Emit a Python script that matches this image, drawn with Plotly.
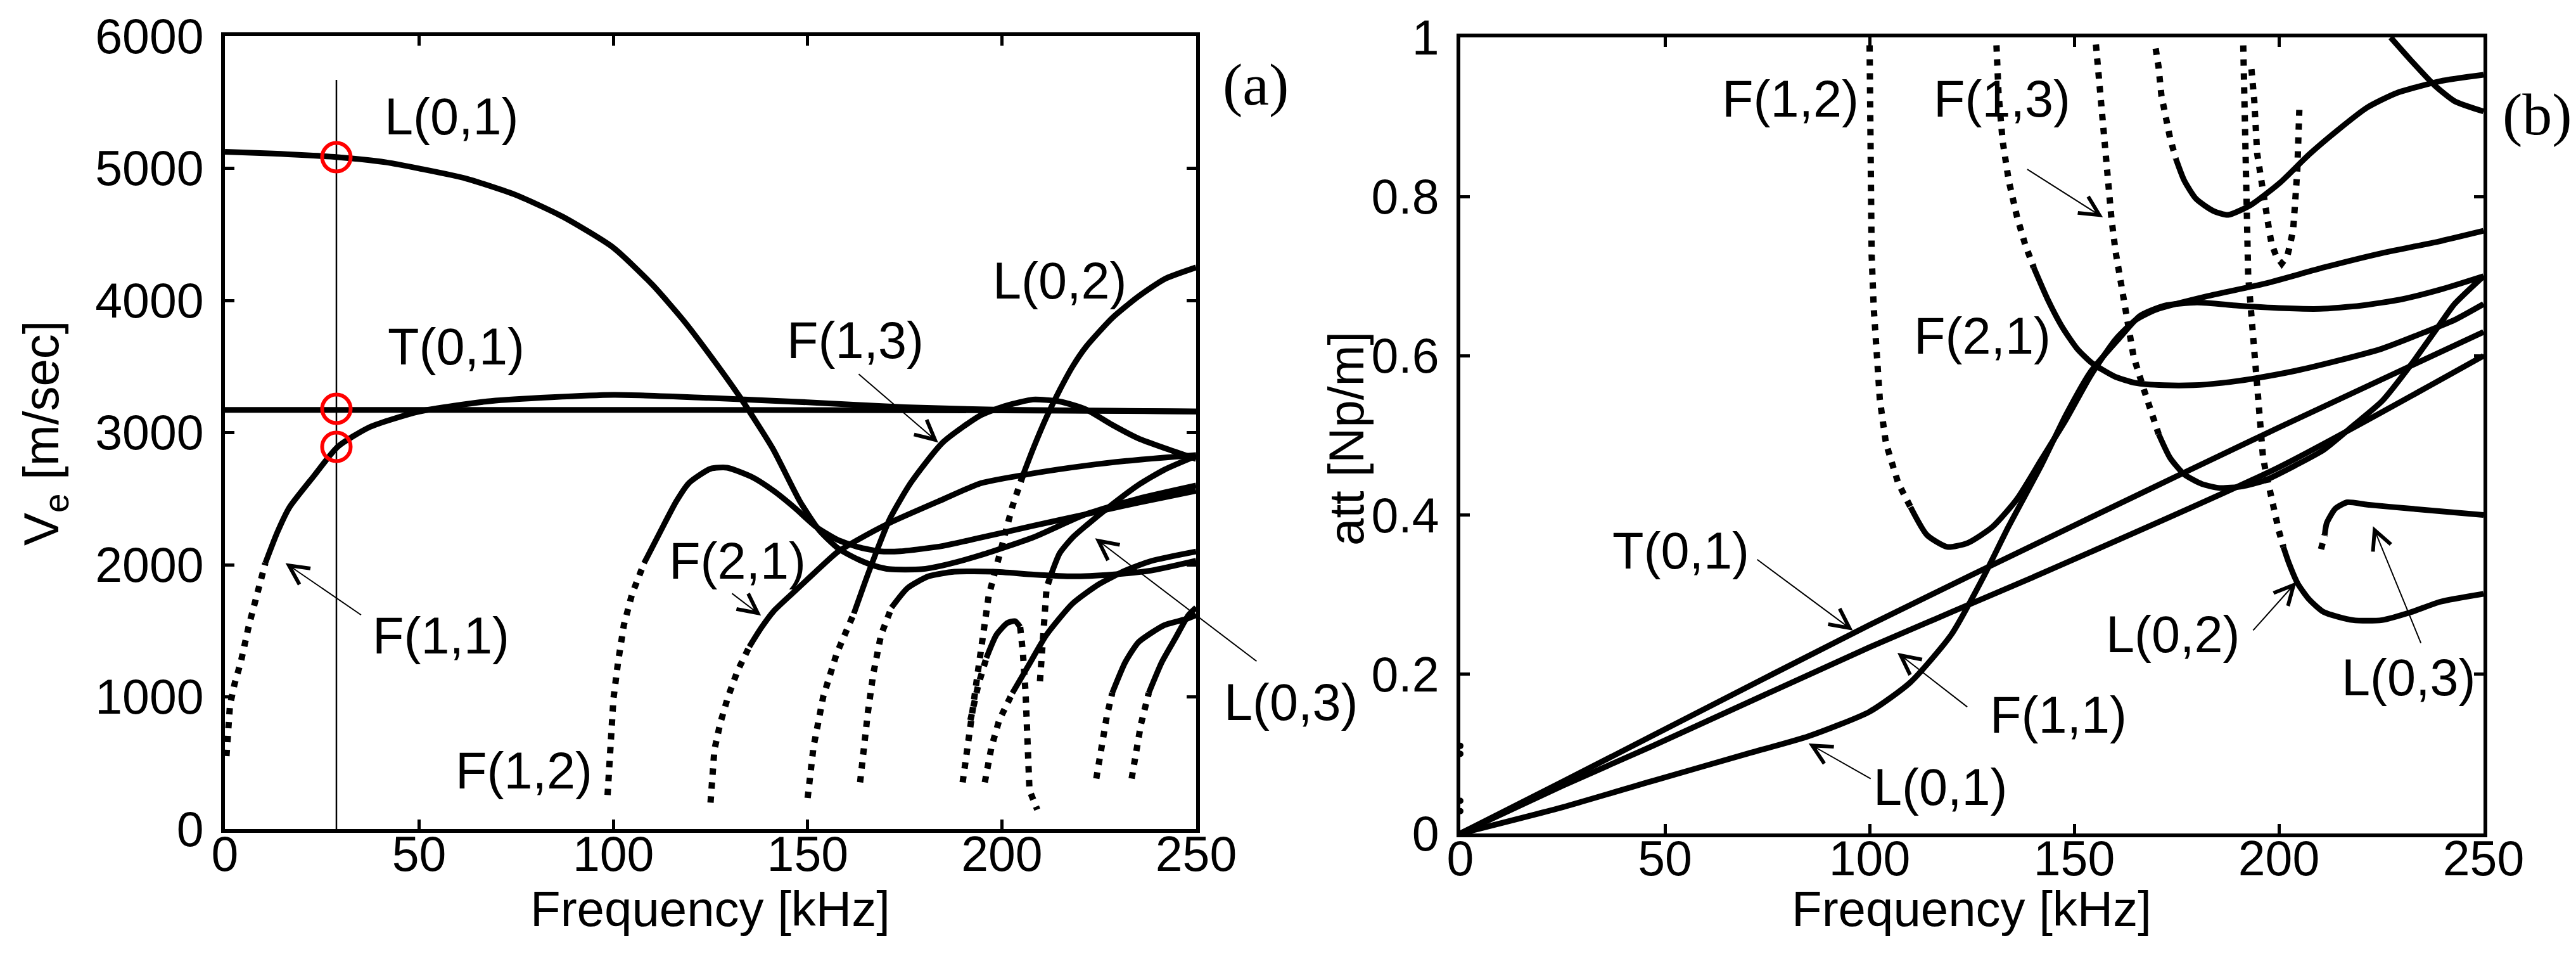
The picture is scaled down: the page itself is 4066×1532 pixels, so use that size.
import plotly.graph_objects as go

# ---------------- (a) energy velocity, f in kHz, V in m/s ----------------
A_T01_F = [0, 50, 100, 150, 200, 250]
A_T01_V = [3172, 3172, 3172, 3170, 3168, 3160]

A_F11_DOT_F = [0.4, 0.8, 1.3, 2.5, 4.1, 6.2, 8.3, 10.4]
A_F11_DOT_V = [552, 772, 936, 1100, 1264, 1544, 1778, 2012]
A_F11_F = [10.4, 13.5, 16.6, 22.8, 29, 37.3, 50, 68.5, 100, 124.5, 150, 175, 200, 250]
A_F11_V = [2012, 2246, 2434, 2668, 2892, 3042, 3159, 3239, 3285, 3262, 3229, 3192, 3173, 3159]

A_L01_F = [0, 12.4, 29, 41.5, 50, 62, 75, 87, 100, 110, 118, 126, 133, 141, 148, 153, 158,
           163, 167.4, 171.2, 179.3, 184.8, 194.6, 208, 221.6, 235.1, 250]
A_L01_V = [5125, 5111, 5084, 5045, 4998, 4923, 4797, 4633, 4399, 4120, 3850, 3540, 3250, 2880,
           2480, 2260, 2120, 2040, 1990, 1966, 1966, 1995, 2073, 2206, 2382, 2500, 2600]

A_F12_DOT_F = [98.5, 99.2, 100, 101.2, 102.7, 104.8, 107.9]
A_F12_DOT_V = [257, 608, 983, 1264, 1544, 1778, 2012]
A_F12_F = [107.9, 112, 116.2, 119.5, 125, 129.3, 135.8, 141.3, 146.7, 152.2, 157.6, 163, 168.5,
           173.9, 184.8, 194.6, 208, 221.6, 235.1, 250]
A_F12_V = [2012, 2246, 2480, 2620, 2726, 2734, 2662, 2558, 2430, 2286, 2190, 2134, 2102, 2102,
           2142, 2206, 2294, 2382, 2470, 2559]

A_F21_DOT_F = [125, 125.3, 126, 127.5, 129.5, 132, 135]
A_F21_DOT_V = [200, 400, 600, 800, 1000, 1200, 1380]
A_F21_F = [135, 138, 141.3, 146.7, 152.2, 157.6, 163, 171.2, 184.8, 194.6, 208, 221.6, 235.1, 250]
A_F21_V = [1380, 1520, 1650, 1800, 1951, 2094, 2190, 2318, 2494, 2617, 2691, 2750, 2794, 2830]

A_F13_DOT_F = [150, 151.5, 154, 157.5, 161.9]
A_F13_DOT_V = [235, 620, 1000, 1330, 1631]
A_F13_F = [161.9, 165.8, 171.2, 176.6, 184.8, 194.6, 201.4, 208, 214.9, 221.6, 228.4, 235.1,
           241.9, 250]
A_F13_V = [1631, 1951, 2350, 2622, 2926, 3132, 3206, 3250, 3235, 3176, 3059, 2956, 2882, 2800]

A_L02_DOT_F = [189.9, 191.6, 193.9, 196.6, 200, 202.7, 205.4]
A_L02_DOT_V = [353, 735, 1206, 1765, 2147, 2441, 2676]
A_L02_F = [205.4, 208.1, 211.5, 214.9, 218.2, 221.6, 228.4, 235.1, 241.9, 250]
A_L02_V = [2676, 2882, 3118, 3323, 3500, 3647, 3867, 4029, 4162, 4250]

A_M1_DOT_F = [163.5, 164.5, 165.5, 166.9, 168.9, 171.6]
A_M1_DOT_V = [353, 676, 882, 1176, 1470, 1676]
A_M1_F = [171.6, 175.7, 181.1, 187.8, 198, 208.1, 218.2, 228.4, 238.5, 250]
A_M1_V = [1676, 1823, 1912, 1947, 1947, 1926, 1912, 1926, 1956, 2030]

A_M2_DOT_F = [195.6, 197.3, 199.3, 202.7]
A_M2_DOT_V = [353, 618, 823, 1029]
A_M2_F = [202.7, 206.8, 211.5, 218.2, 225, 231.8, 238.5, 250]
A_M2_V = [1029, 1235, 1470, 1706, 1853, 1956, 2029, 2100]

A_M3_DOT_F = [191.9, 193.9, 196]
A_M3_DOT_V = [823, 1088, 1294]
A_M3_F = [196, 198.6, 201.4, 203.4, 204.7]
A_M3_V = [1294, 1470, 1559, 1573, 1529]
A_M3_TAIL_F = [204.7, 205.4, 206.1, 206.6, 207.1, 209.1]
A_M3_TAIL_V = [1529, 1338, 1029, 470, 294, 147]

A_L03_DOT_F = [209.8, 210.5, 210.8, 211.5, 212.5]
A_L03_DOT_V = [1118, 1470, 1647, 1823, 1912]
A_L03_F = [212.5, 214.9, 218.2, 221.6, 228.4, 235.1, 241.9, 250]
A_L03_V = [1912, 2088, 2206, 2294, 2456, 2603, 2720, 2823]

A_M4_DOT_F = [224.3, 225, 225.7, 227, 228.4]
A_M4_DOT_V = [382, 500, 647, 853, 1029]
A_M4_F = [228.4, 231.8, 235.1, 238.5, 241.9, 247.3, 250]
A_M4_V = [1029, 1265, 1412, 1485, 1544, 1588, 1618]

A_M5_DOT_F = [233.4, 234.4, 235.8, 237.8]
A_M5_DOT_V = [382, 588, 794, 1029]
A_M5_F = [237.8, 241.2, 244.6, 248, 250]
A_M5_V = [1029, 1265, 1441, 1618, 1676]

MARK_F = 28.7
MARK_TOP = 5669
CIRCLE_V = [5084, 3180, 2892]

# ---------------- (b) attenuation, att in Np/m ----------------
B_T01_F = [0, 25, 47, 100, 150, 200, 250]
B_T01_A = [0, 0.065, 0.123, 0.262, 0.387, 0.51, 0.63]

B_F11_F = [0, 25, 47, 100, 140, 200, 250]
B_F11_A = [0, 0.06, 0.11, 0.234, 0.322, 0.46, 0.60]

B_L01_F = [0, 25, 47, 70, 85, 100, 110, 120, 128, 134, 142, 148, 154, 161, 166, 172, 180, 190,
           200, 210, 220, 230, 240, 250]
B_L01_A = [0, 0.033, 0.066, 0.1, 0.122, 0.153, 0.19, 0.25, 0.324, 0.386, 0.463, 0.526, 0.58,
           0.622, 0.65, 0.663, 0.667, 0.663, 0.66, 0.659, 0.663, 0.671, 0.684, 0.70]

B_F12_DOT_F = [100, 100.2, 100.5, 101, 101.5, 102.5, 104, 107, 110]
B_F12_DOT_A = [0.99, 0.78, 0.727, 0.661, 0.615, 0.545, 0.49, 0.44, 0.41]
B_F12_F = [110, 114, 119, 124, 130, 136, 142, 148, 154, 160, 165, 170, 182.6, 196.8, 211, 225.2,
           239.4, 250]
B_F12_A = [0.41, 0.375, 0.36, 0.365, 0.385, 0.42, 0.47, 0.52, 0.575, 0.62, 0.645, 0.658, 0.675,
           0.691, 0.711, 0.729, 0.744, 0.757]

B_F21_DOT_F = [131, 131.5, 132.5, 134, 136, 138, 140.1]
B_F21_DOT_A = [0.99, 0.93, 0.87, 0.82, 0.775, 0.74, 0.711]
B_F21_F = [140.1, 143.6, 147.2, 150.7, 154.3, 159.9, 164.9, 172, 179.1, 186.2, 193.3, 203.9,
           214.5, 225.2, 235.8, 242.9, 250]
B_F21_A = [0.711, 0.67, 0.635, 0.609, 0.591, 0.574, 0.566, 0.563, 0.563, 0.566, 0.571, 0.581,
           0.594, 0.609, 0.63, 0.645, 0.665]

B_F13_DOT_F = [155.3, 156, 157.1, 158.2, 159.1, 160.1, 161.3, 162.6, 164.5, 167, 170.6]
B_F13_DOT_A = [0.991, 0.95, 0.879, 0.82, 0.772, 0.731, 0.696, 0.652, 0.599, 0.558, 0.502]
B_F13_F = [170.6, 173.4, 176.9, 181.2, 185.5, 191.1, 196.8, 203.9, 211, 218.1, 225.2, 232.3,
           239.4, 242.9, 250]
B_F13_A = [0.502, 0.472, 0.451, 0.439, 0.434, 0.436, 0.444, 0.462, 0.482, 0.512, 0.543, 0.589,
           0.64, 0.665, 0.70]

B_M1_F = [227.3, 232.3, 238, 242.9, 250]
B_M1_A = [1.0, 0.971, 0.94, 0.92, 0.907]

B_M2_DOT_F = [169.9, 170.6, 171.3, 172.3, 173.4, 174.8]
B_M2_DOT_A = [0.986, 0.963, 0.927, 0.9, 0.874, 0.848]
B_M2_F = [174.8, 176.9, 179.8, 184, 187.6, 193.3, 200.4, 207.4, 214.5, 221.6, 228.7, 239.4, 250]
B_M2_A = [0.848, 0.82, 0.797, 0.782, 0.777, 0.79, 0.818, 0.853, 0.884, 0.912, 0.93, 0.945, 0.953]

B_M3_F = [193.3, 194, 194.7, 195.4, 196.1, 196.8, 197.5, 198.2, 199.3, 200.7, 202.1, 202.8,
          203.5, 203.9, 204.5, 205]
B_M3_A = [0.96, 0.92, 0.854, 0.828, 0.808, 0.787, 0.762, 0.741, 0.726, 0.716, 0.726, 0.741,
          0.759, 0.787, 0.833, 0.909]

B_L02_DOT_F = [191.3, 191.8, 192.4, 192.5, 193.3, 194, 194.8, 195.5, 196.1, 196.8, 197.9, 199,
               200, 201.1]
B_L02_DOT_A = [0.99, 0.853, 0.766, 0.701, 0.65, 0.607, 0.54, 0.515, 0.474, 0.454, 0.426, 0.4,
               0.38, 0.36]
B_L02_F = [201.1, 202.5, 204.6, 207.4, 211, 218.1, 225.2, 232.3, 239.4, 250]
B_L02_A = [0.36, 0.339, 0.314, 0.294, 0.278, 0.268, 0.268, 0.278, 0.291, 0.301]

B_L03_DOT_F = [210.3, 210.8, 211.2]
B_L03_DOT_A = [0.357, 0.37, 0.375]
B_L03_F = [211.2, 211.7, 213.8, 216.7, 221.6, 232.3, 250]
B_L03_A = [0.375, 0.39, 0.408, 0.416, 0.413, 0.408, 0.40]

B_ZERO_F = [0, 0, 0, 0]
B_ZERO_A = [0.11, 0.10, 0.041, 0.028]

# mode labels: (text, f, value) and arrows: (tail f, tail value, tip f, tip value)
A_LABELS = [("L(0,1)", 58.3, 5390), ("T(0,1)", 59.5, 3650), ("F(1,3)", 162.2, 3700),
            ("L(0,2)", 214.9, 4150), ("F(2,1)", 132, 2030), ("F(1,1)", 55.6, 1465),
            ("F(1,2)", 77, 440)]
A_ARROWS = [(35.3, 1615, 15.6, 2012), (130.3, 1788, 138, 1615),
            (162.9, 3449, 183.6, 2925), (265.8, 1264, 224, 2200)]
B_LABELS = [("F(1,2)", 80.6, 0.923), ("F(1,3)", 132.4, 0.923), ("F(2,1)", 127.5, 0.625),
            ("T(0,1)", 53.8, 0.355), ("F(1,1)", 146.2, 0.149), ("L(0,1)", 117.4, 0.058),
            ("L(0,2)", 174.2, 0.25), ("L(0,3)", 231.7, 0.196)]
B_ARROWS = [(72.3, 0.345, 95.9, 0.255), (124.1, 0.158, 106.8, 0.227),
            (100.5, 0.068, 85.1, 0.113), (193.5, 0.254, 204.3, 0.316),
            (234.8, 0.238, 223, 0.386), (138.3, 0.835, 157, 0.774)]

SANS = "Liberation Sans, Arial, sans-serif"
SERIF = "Liberation Serif, Times New Roman, serif"
W, H = 4066, 1532

fig = go.Figure()


def curve(x, y, xa, ya, dotted=False):
    fig.add_trace(go.Scatter(
        x=x, y=y, mode="lines", xaxis=xa, yaxis=ya, showlegend=False, hoverinfo="skip",
        line=dict(color="black", width=10 if dotted else 9,
                  dash="10px,12px" if dotted else "solid",
                  shape="linear" if dotted else "spline", smoothing=0.6),
    ))


left_solid = [(A_T01_F, A_T01_V), (A_F11_F, A_F11_V), (A_L01_F, A_L01_V), (A_F12_F, A_F12_V),
              (A_F21_F, A_F21_V), (A_F13_F, A_F13_V), (A_L02_F, A_L02_V), (A_M1_F, A_M1_V),
              (A_M2_F, A_M2_V), (A_M3_F, A_M3_V), (A_L03_F, A_L03_V), (A_M4_F, A_M4_V),
              (A_M5_F, A_M5_V)]
left_dotted = [(A_F11_DOT_F, A_F11_DOT_V), (A_F12_DOT_F, A_F12_DOT_V), (A_F21_DOT_F, A_F21_DOT_V),
               (A_F13_DOT_F, A_F13_DOT_V), (A_L02_DOT_F, A_L02_DOT_V), (A_M1_DOT_F, A_M1_DOT_V),
               (A_M2_DOT_F, A_M2_DOT_V), (A_M3_DOT_F, A_M3_DOT_V), (A_M3_TAIL_F, A_M3_TAIL_V),
               (A_L03_DOT_F, A_L03_DOT_V), (A_M4_DOT_F, A_M4_DOT_V), (A_M5_DOT_F, A_M5_DOT_V)]
for fx, vy in left_solid:
    curve(fx, vy, "x", "y")
for fx, vy in left_dotted:
    curve(fx, vy, "x", "y", dotted=True)

right_solid = [(B_T01_F, B_T01_A), (B_F11_F, B_F11_A), (B_L01_F, B_L01_A), (B_F12_F, B_F12_A),
               (B_F21_F, B_F21_A), (B_F13_F, B_F13_A), (B_M1_F, B_M1_A), (B_M2_F, B_M2_A),
               (B_L02_F, B_L02_A), (B_L03_F, B_L03_A)]
right_dotted = [(B_F12_DOT_F, B_F12_DOT_A), (B_F21_DOT_F, B_F21_DOT_A), (B_F13_DOT_F, B_F13_DOT_A),
                (B_M2_DOT_F, B_M2_DOT_A), (B_M3_F, B_M3_A), (B_L02_DOT_F, B_L02_DOT_A),
                (B_L03_DOT_F, B_L03_DOT_A)]
for fx, ay in right_solid:
    curve(fx, ay, "x2", "y2")
for fx, ay in right_dotted:
    curve(fx, ay, "x2", "y2", dotted=True)

fig.add_trace(go.Scatter(x=B_ZERO_F, y=B_ZERO_A, mode="markers", xaxis="x2", yaxis="y2",
                         marker=dict(color="black", size=10), cliponaxis=False,
                         showlegend=False, hoverinfo="skip"))

# marker line at the chosen frequency and the red circles
fig.add_trace(go.Scatter(x=[MARK_F, MARK_F], y=[0, MARK_TOP], mode="lines", xaxis="x", yaxis="y",
                         line=dict(color="black", width=2.5), showlegend=False, hoverinfo="skip"))
fig.add_trace(go.Scatter(x=[MARK_F] * len(CIRCLE_V), y=CIRCLE_V, mode="markers",
                         xaxis="x", yaxis="y", showlegend=False, hoverinfo="skip",
                         marker=dict(symbol="circle-open", size=45, color="#ff0000",
                                     line=dict(width=6, color="#ff0000"))))


def paper_text(txt, px, py, size, family=SANS, angle=0):
    return dict(text=txt, x=px / W, y=1 - py / H, xref="paper", yref="paper",
                xanchor="center", yanchor="middle", showarrow=False, textangle=angle,
                font=dict(family=family, size=size, color="black"))


annotations = []
for txt, fx, vy in A_LABELS:
    annotations.append(dict(text=txt, x=fx, y=vy, xref="x", yref="y", showarrow=False,
                            xanchor="center", yanchor="middle",
                            font=dict(family=SANS, size=81, color="black")))
for txt, fx, ay in B_LABELS:
    annotations.append(dict(text=txt, x=fx, y=ay, xref="x2", yref="y2", showarrow=False,
                            xanchor="center", yanchor="middle",
                            font=dict(family=SANS, size=81, color="black")))
for (tf, tv, hf, hv) in A_ARROWS:
    annotations.append(dict(text="", x=hf, y=hv, ax=tf, ay=tv, xref="x", yref="y",
                            axref="x", ayref="y", showarrow=True, arrowhead=5, arrowsize=3,
                            arrowwidth=2, arrowcolor="black", standoff=0, startstandoff=0))
for (tf, tv, hf, hv) in B_ARROWS:
    annotations.append(dict(text="", x=hf, y=hv, ax=tf, ay=tv, xref="x2", yref="y2",
                            axref="x2", ayref="y2", showarrow=True, arrowhead=5, arrowsize=3,
                            arrowwidth=2, arrowcolor="black", standoff=0, startstandoff=0))

# label that sits outside panel (a), panel tags and axis titles
annotations += [
    paper_text("L(0,3)", 2030, 1100, 81),
    paper_text("(a)", 1974, 125, 94, family=SERIF),
    paper_text("(b)", 3997, 172, 94, family=SERIF),
    paper_text("Frequency [kHz]", 1113, 1426, 78),
    paper_text("Frequency [kHz]", 3104, 1426, 78),
    paper_text("V<sub>e</sub> [m/sec]", 62, 676, 78, angle=-90),
    paper_text("att [Np/m]", 2117, 684, 78, angle=-90),
]

axis_style = dict(showline=True, linecolor="black", linewidth=6, mirror="allticks",
                  ticks="inside", ticklen=15, tickwidth=5, tickcolor="black",
                  showgrid=False, zeroline=False, automargin=False,
                  tickfont=dict(family=SANS, size=77, color="black"))

fig.update_layout(
    width=W, height=H,
    margin=dict(l=0, r=0, t=0, b=0, pad=0, autoexpand=False),
    paper_bgcolor="white", plot_bgcolor="white",
    showlegend=False,
    annotations=annotations,
    xaxis=dict(domain=[347 / W, 1880 / W], range=[0, 250], anchor="y",
               tickvals=[0, 50, 100, 150, 200, 250], ticklabelstandoff=-32, **axis_style),
    yaxis=dict(domain=[1 - 1300 / H, 1 - 49 / H], range=[0, 6000], anchor="x",
               tickvals=[0, 1000, 2000, 3000, 4000, 5000, 6000], ticklabelstandoff=12,
               **axis_style),
    xaxis2=dict(domain=[2297 / W, 3912 / W], range=[0, 250], anchor="y2",
                tickvals=[0, 50, 100, 150, 200, 250], ticklabelstandoff=-32, **axis_style),
    yaxis2=dict(domain=[1 - 1307 / H, 1 - 51 / H], range=[0, 1], anchor="x2",
                tickvals=[0, 0.2, 0.4, 0.6, 0.8, 1],
                ticktext=["0", "0.2", "0.4", "0.6", "0.8", "1"], ticklabelstandoff=12,
                **axis_style),
)

fig.write_html("out.html")
